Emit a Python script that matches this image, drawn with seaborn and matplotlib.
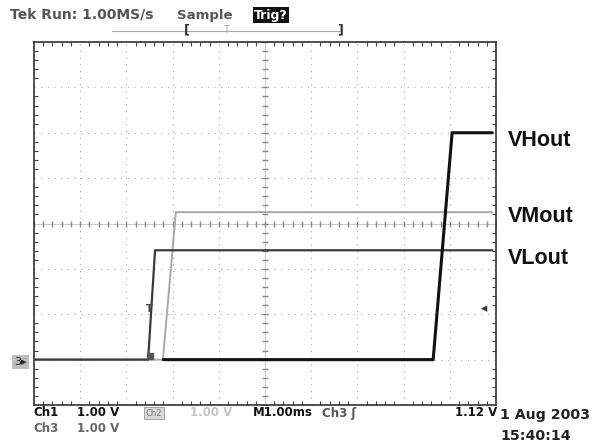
import matplotlib.pyplot as plt
import numpy as np
import pandas as pd
import seaborn as sns

# time in divisions (1 ms/div), level in divisions (1 V/div), ground at 1 div
vl_time = [0.0, 2.47, 2.62, 9.92]
vl_level = [1.0, 1.0, 3.41, 3.41]
vm_time = [0.0, 2.79, 3.07, 9.92]
vm_level = [1.0, 1.0, 4.25, 4.25]
vh_time = [2.80, 8.64, 9.05, 9.92]
vh_level = [1.0, 1.0, 6.0, 6.0]
trace_names = ["VHout", "VMout", "VLout"]

traces = pd.concat([
    pd.DataFrame({"t": vh_time, "v": vh_level, "trace": "VHout"}),
    pd.DataFrame({"t": vm_time, "v": vm_level, "trace": "VMout"}),
    pd.DataFrame({"t": vl_time, "v": vl_level, "trace": "VLout"}),
])

sns.set_theme(style="white")
plt.rcParams["font.family"] = ["DejaVu Sans"]

W, H = 598, 447
fig = plt.figure(figsize=(W / 100, H / 100), dpi=100)
ax = fig.add_axes([34 / W, 1 - 405 / H, 462 / W, 363 / H])

colors = {"VHout": "#111111", "VMout": "#a8a8a8", "VLout": "#3a3a3a"}
widths = {"VHout": 2.2, "VMout": 1.4, "VLout": 1.6}
for name in ["VMout", "VLout", "VHout"]:
    sns.lineplot(data=traces[traces["trace"] == name], x="t", y="v",
                 estimator=None, sort=False, color=colors[name],
                 linewidth=widths[name], ax=ax, zorder=3)

ax.set_xlim(0, 10)
ax.set_ylim(0, 8)
ax.set_xlabel("")
ax.set_ylabel("")
ax.set_xticks(range(11))
ax.set_yticks(range(9))
ax.set_xticks(np.arange(0, 10.01, 0.2), minor=True)
ax.set_yticks(np.arange(0, 8.01, 0.2), minor=True)
ax.set_xticklabels([])
ax.set_yticklabels([])
ax.tick_params(which="both", direction="in", top=True, right=True,
               bottom=True, left=True, color="#444444")
ax.tick_params(which="major", length=0)
ax.tick_params(which="minor", length=3, width=0.8)
ax.grid(True, which="major", color="#aaaaaa", linewidth=0.8,
        linestyle=(0, (1, 5)))
for s in ax.spines.values():
    s.set_color("#333333")
    s.set_linewidth(1.2)

# center graticule cross with small ticks
ax.axhline(4, color="#c4c4c4", linewidth=0.6, zorder=1)
ax.axvline(5, color="#c4c4c4", linewidth=0.6, zorder=1)
ax.plot(np.arange(0, 10.01, 0.2), [4] * 51, linestyle="none", marker="|",
        markersize=5, color="#888888", zorder=1)
ax.plot([5] * 41, np.arange(0, 8.01, 0.2), linestyle="none", marker="_",
        markersize=5, color="#888888", zorder=1)

# trigger markers
ax.text(2.5, 2.12, "T", ha="center", va="center", fontsize=7,
        color="#444444", fontweight="bold", zorder=4)
ax.text(9.75, 2.12, "\u25c2", ha="center", va="center", fontsize=9,
        color="#333333", zorder=4)
ax.plot([2.5], [1.08], marker="s", markersize=5, color="#555555", zorder=4)

# trace labels
label_y = {"VHout": 140, "VMout": 216, "VLout": 259}
for name in trace_names:
    fig.text(508 / W, 1 - label_y[name] / H, name, fontsize=15.5,
             fontweight="bold", family="Liberation Sans", color="#111111",
             va="center", ha="left")

# ground marker
fig.text(14 / W, 1 - 362 / H, "3\u25b8", fontsize=8, color="#222222",
         va="center", ha="left",
         bbox=dict(boxstyle="square,pad=0.2", fc="#bdbdbd", ec="none"))

# header
hdr = dict(fontsize=9.5, fontweight="bold", color="#555555", va="center")
fig.text(10 / W, 1 - 15 / H, "Tek Run: 1.00MS/s", ha="left",
         **{**hdr, "fontsize": 10})
fig.text(177 / W, 1 - 15 / H, "Sample", ha="left", **hdr)
fig.text(254 / W, 1 - 15 / H, "Trig?", ha="left", fontsize=9,
         fontweight="bold", color="white", va="center",
         bbox=dict(boxstyle="square,pad=0.1", fc="#111111", ec="none"))
fig.add_artist(plt.Line2D([112 / W, 340 / W], [1 - 31 / H, 1 - 31 / H],
                          color="#aaaaaa", linewidth=0.8))
fig.text(187 / W, 1 - 30 / H, "[", ha="center", va="center", fontsize=9,
         fontweight="bold", color="#333333")
fig.text(226 / W, 1 - 30 / H, "T", ha="center", va="center", fontsize=7,
         color="#aaaaaa")
fig.text(340 / W, 1 - 30 / H, "]", ha="center", va="center", fontsize=9,
         fontweight="bold", color="#333333")

# footer
ft = dict(fontsize=8.5, fontweight="bold", va="center", ha="left")
fig.text(33 / W, 1 - 413 / H, "Ch1", color="#111111", **ft)
fig.text(77 / W, 1 - 413 / H, "1.00 V", color="#111111", **ft)
fig.text(33 / W, 1 - 428 / H, "Ch3", color="#666666", **ft)
fig.text(77 / W, 1 - 428 / H, "1.00 V", color="#666666", **ft)
fig.text(146 / W, 1 - 413 / H, "Ch2", fontsize=6, color="#777777",
         va="center", ha="left",
         bbox=dict(boxstyle="square,pad=0.2", fc="#d8d8d8", ec="#999999",
                   linewidth=0.6))
fig.text(190 / W, 1 - 413 / H, "1.00 V", color="#c4c4c4", **ft)
fig.text(253 / W, 1 - 413 / H, "M1.00ms", color="#111111", **ft)
fig.text(322 / W, 1 - 413 / H, "Ch3 \u0283", color="#555555", **ft)
fig.text(455 / W, 1 - 413 / H, "1.12 V", color="#111111", **ft)
fig.text(500 / W, 1 - 415 / H, "1 Aug 2003", fontsize=10.2,
         fontweight="bold", color="#222222", va="center", ha="left")
fig.text(500 / W, 1 - 436 / H, "15:40:14", fontsize=10.2,
         fontweight="bold", color="#222222", va="center", ha="left")

fig.savefig("out.png", dpi=100)
plt.close(fig)
